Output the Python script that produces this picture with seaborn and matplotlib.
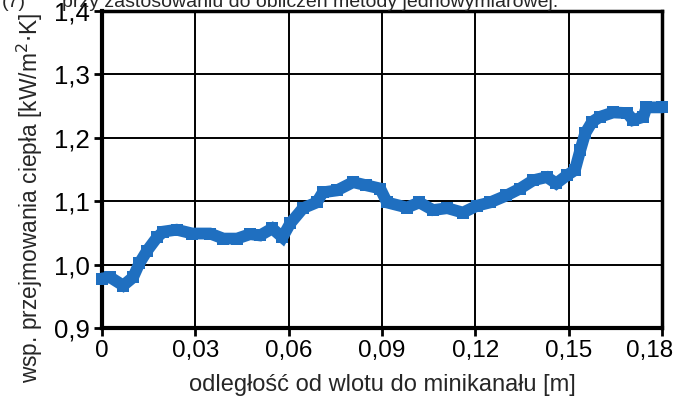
import matplotlib
matplotlib.use("Agg")
import matplotlib.pyplot as plt
import matplotlib.transforms as mtransforms
import seaborn as sns
import pandas as pd

# distance from inlet [m]
distance = [0.0, 0.0026, 0.0068, 0.010, 0.012, 0.0145, 0.0177, 0.0197, 0.024, 0.029,
            0.0347, 0.039, 0.0434, 0.0476, 0.0508, 0.0547, 0.058, 0.0605, 0.0646, 0.069,
            0.071, 0.0755, 0.0807, 0.085, 0.0894, 0.0916, 0.098, 0.102, 0.1064, 0.111,
            0.116, 0.1206, 0.1247, 0.130, 0.1344, 0.1386, 0.143, 0.146, 0.1495, 0.152,
            0.1537, 0.1553, 0.1575, 0.160, 0.1643, 0.1688, 0.1707, 0.174, 0.175, 0.180]
# heat transfer coefficient [kW/(m2 K)]
htc = [0.978, 0.980, 0.967, 0.980, 1.002, 1.022, 1.043, 1.052, 1.055, 1.049,
       1.049, 1.041, 1.041, 1.048, 1.046, 1.057, 1.043, 1.065, 1.089, 1.098,
       1.114, 1.117, 1.130, 1.125, 1.120, 1.098, 1.090, 1.098, 1.086, 1.089,
       1.082, 1.093, 1.098, 1.109, 1.120, 1.133, 1.138, 1.128, 1.141, 1.149,
       1.180, 1.207, 1.225, 1.233, 1.240, 1.239, 1.228, 1.233, 1.248, 1.248]

x_ticks = [0, 0.03, 0.06, 0.09, 0.12, 0.15, 0.18]
x_tick_labels = ["0", "0,03", "0,06", "0,09", "0,12", "0,15", "0,18"]
y_ticks = [0.9, 1.0, 1.1, 1.2, 1.3, 1.4]
y_tick_labels = ["0,9", "1,0", "1,1", "1,2", "1,3", "1,4"]

sns.set_style("white")
plt.rcParams["font.family"] = ["Liberation Sans", "DejaVu Sans"]

df = pd.DataFrame({"x": distance, "y": htc})

fig = plt.figure(figsize=(6.82, 3.99), dpi=100)
ax = fig.add_axes([0.1496, 0.178, 0.8211, 0.7944])
sns.lineplot(data=df, x="x", y="y", ax=ax, color="#1f6fc0", linewidth=8.5,
             marker="s", markersize=9, markeredgewidth=0, solid_joinstyle="miter",
             clip_on=False, zorder=3)

ax.set_xlim(0, 0.18)
ax.set_ylim(0.9, 1.4)
ax.set_xticks(x_ticks)
ax.set_xticklabels(x_tick_labels)
ax.set_yticks(y_ticks)
ax.set_yticklabels(y_tick_labels)
ax.tick_params(axis="both", colors="black", length=6, width=2,
               direction="out", left=True, bottom=True)
ax.tick_params(axis="x", labelsize=17.5, pad=3)
ax.tick_params(axis="y", labelsize=18.5, pad=3)
# last x label shifted left so it stays inside the figure
last = ax.get_xticklabels()[-1]
last.set_transform(last.get_transform() +
                   mtransforms.ScaledTranslation(-0.12, 0, fig.dpi_scale_trans))

ax.grid(True, color="black", linewidth=1.4)
for s in ["left", "bottom"]:
    ax.spines[s].set_linewidth(3)
for s in ["top", "right"]:
    ax.spines[s].set_linewidth(2.5)
for s in ax.spines.values():
    s.set_color("black")

ax.set_xlabel("odległość od wlotu do minikanału [m]", fontsize=17, labelpad=8)
ax.set_ylabel("")
fig.text(30 / 682, 1 - 198 / 399, "wsp. przejmowania ciepła [kW/m$^2$$\\cdot$K]",
         fontsize=16.4, rotation=90, ha="center", va="center")

fig.text(0.003, 1 - 7 / 399, "(7)", fontsize=14, va="baseline", ha="left")
fig.text(62 / 682, 1 - 7 / 399, "przy zastosowaniu do obliczeń metody jednowymiarowej.",
         fontsize=14, va="baseline", ha="left")

fig.savefig("out.png", dpi=100)
